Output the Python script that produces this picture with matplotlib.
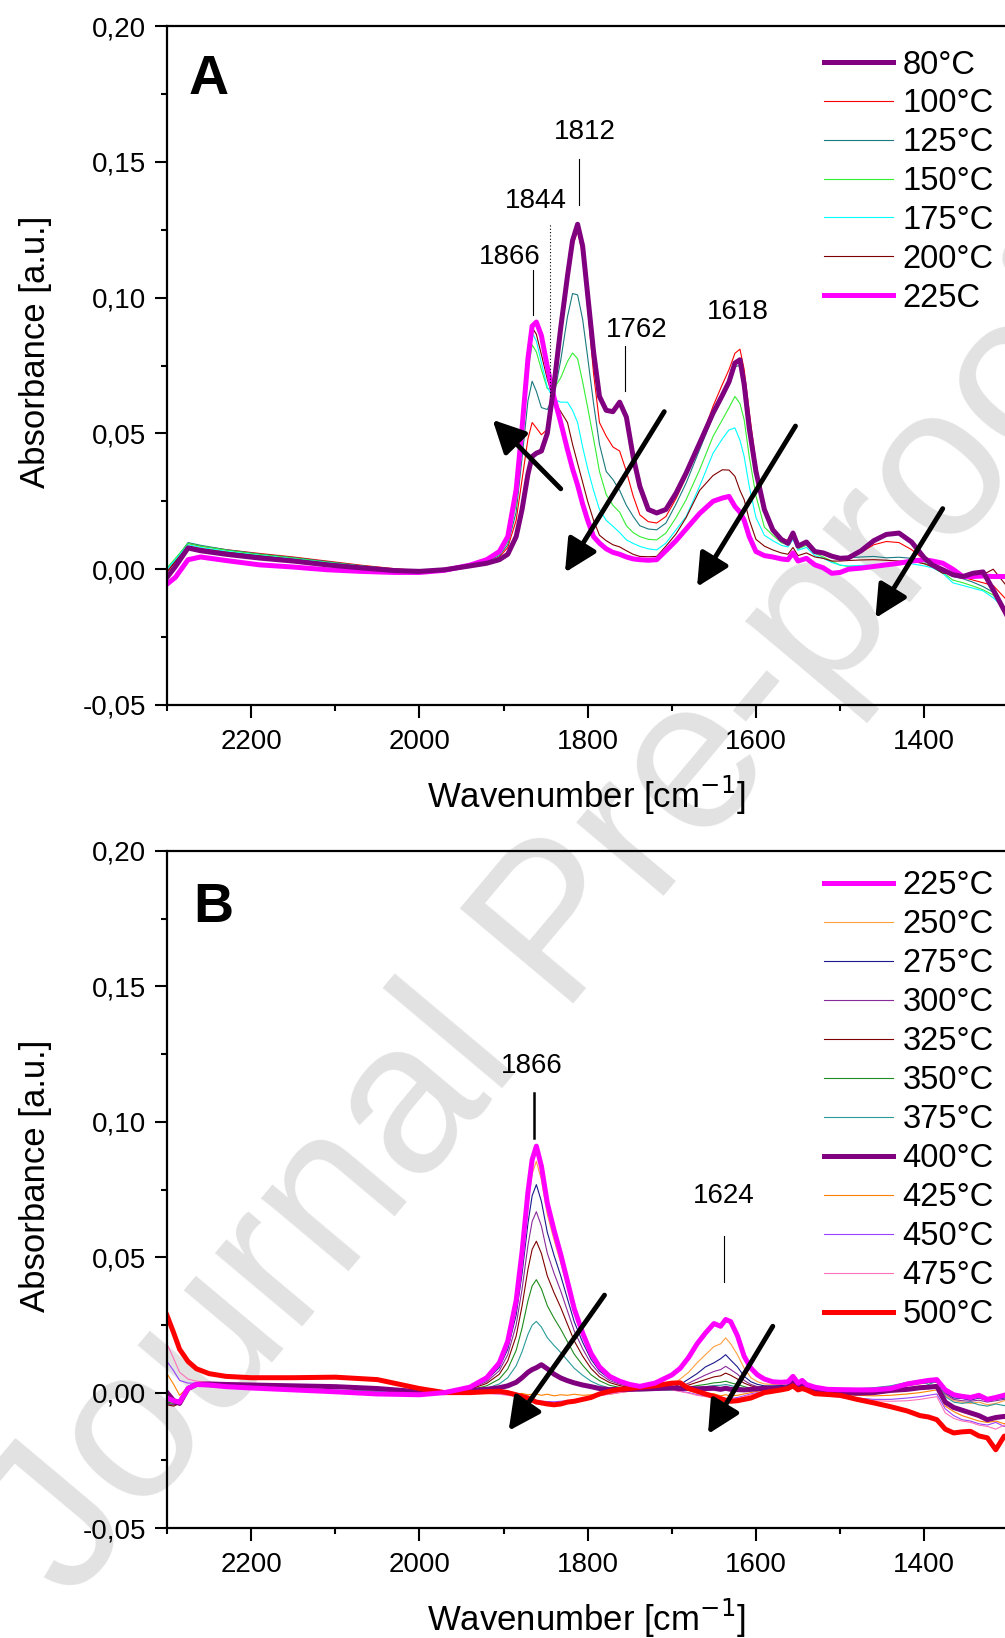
import matplotlib
matplotlib.use("Agg")
import matplotlib.pyplot as plt
from matplotlib.ticker import MultipleLocator, FuncFormatter

plt.rcParams['font.family'] = ['Liberation Sans', 'DejaVu Sans']

# ---------------- panel A data ----------------
wn_a = [2300, 2290, 2275, 2260, 2230, 2190, 2150, 2110, 2070, 2030,
        2000, 1970, 1940, 1920, 1905, 1895, 1885, 1878, 1871, 1866,
        1861, 1855, 1848, 1840, 1832, 1824, 1818, 1812, 1806, 1800,
        1793, 1786, 1778, 1770, 1762, 1754, 1746, 1738, 1728, 1718,
        1707, 1695, 1683, 1667, 1651, 1640, 1632, 1625, 1619, 1614,
        1608, 1600, 1590, 1580, 1570, 1562, 1556, 1550, 1540, 1530,
        1520, 1510, 1500, 1490, 1475, 1460, 1445, 1430, 1415, 1400,
        1390, 1378, 1366, 1354, 1342, 1330, 1318, 1300]

a_80 = [-0.003, 0.001, 0.0078, 0.0068, 0.0055, 0.0041, 0.0030, 0.0016, 0.0005, -0.0005,
        -0.0008, -0.0002, 0.0012, 0.0022, 0.0035, 0.0055, 0.012, 0.022, 0.035, 0.0415,
        0.0427, 0.0435, 0.050, 0.068, 0.089, 0.108, 0.121, 0.127, 0.119, 0.101,
        0.080, 0.0636, 0.0585, 0.058, 0.0615, 0.056, 0.0415, 0.0305, 0.022, 0.0207,
        0.022, 0.028, 0.0354, 0.0464, 0.0575, 0.064, 0.069, 0.0759, 0.0771, 0.068,
        0.052, 0.036, 0.022, 0.0145, 0.011, 0.0095, 0.0133, 0.0085, 0.010, 0.0065,
        0.006, 0.0048, 0.004, 0.0042, 0.0068, 0.0105, 0.0128, 0.0133, 0.0100, 0.0042,
        0.0015, -0.0002, -0.002, -0.0027, -0.0015, -0.001, -0.0076, -0.018]
a_100 = [-0.001, 0.003, 0.0095, 0.0085, 0.0072, 0.0058, 0.0045, 0.003, 0.0015, 0.0002,
         -0.0005, -0.0002, 0.0012, 0.0025, 0.0045, 0.008, 0.018, 0.033, 0.048, 0.054,
         0.052, 0.0495, 0.0515, 0.066, 0.087, 0.106, 0.119, 0.1245, 0.116, 0.096,
         0.072, 0.054, 0.049, 0.045, 0.0435, 0.036, 0.027, 0.020, 0.0175, 0.017,
         0.0194, 0.026, 0.034, 0.0464, 0.060, 0.068, 0.0735, 0.0795, 0.081, 0.0735,
         0.058, 0.039, 0.022, 0.0145, 0.0115, 0.0105, 0.014, 0.009, 0.0105, 0.0062,
         0.0058, 0.0045, 0.0036, 0.004, 0.0062, 0.0090, 0.0102, 0.0098, 0.0072, 0.0035,
         0.0008, -0.001, -0.0015, -0.003, -0.004, -0.005, -0.006, -0.012]
a_125 = [0.0, 0.0035, 0.0098, 0.0088, 0.0072, 0.0056, 0.0043, 0.0028, 0.0013, 0.0,
         -0.0006, -0.0002, 0.0014, 0.0028, 0.005, 0.009, 0.021, 0.041, 0.062, 0.0692,
         0.0655, 0.0595, 0.0588, 0.064, 0.077, 0.093, 0.1015, 0.101, 0.092, 0.078,
         0.061, 0.046, 0.036, 0.033, 0.029, 0.0235, 0.0195, 0.016, 0.0148, 0.0145,
         0.017, 0.024, 0.0317, 0.044, 0.0562, 0.063, 0.0685, 0.0746, 0.075, 0.0695,
         0.056, 0.037, 0.021, 0.0145, 0.0108, 0.0098, 0.013, 0.0082, 0.0095, 0.006,
         0.0055, 0.0045, 0.004, 0.0042, 0.0045, 0.0047, 0.0042, 0.0044, 0.0040, 0.0028,
         0.0018, -0.0005, -0.0027, -0.0035, -0.0048, -0.0064, -0.0085, -0.019]
a_150 = [0.0005, 0.004, 0.0095, 0.0085, 0.007, 0.0054, 0.0041, 0.0026, 0.0012, 0.0,
         -0.0006, -0.0002, 0.0014, 0.003, 0.0055, 0.010, 0.024, 0.048, 0.073, 0.0826,
         0.080, 0.0735, 0.0665, 0.0665, 0.0705, 0.0765, 0.0796, 0.0775, 0.069, 0.0595,
         0.048, 0.036, 0.0275, 0.0235, 0.021, 0.016, 0.0135, 0.012, 0.011, 0.0108,
         0.0133, 0.019, 0.0256, 0.0366, 0.0489, 0.055, 0.0595, 0.0636, 0.061, 0.055,
         0.0415, 0.027, 0.0155, 0.0125, 0.0098, 0.009, 0.012, 0.0075, 0.0088, 0.0058,
         0.0045, 0.003, 0.0015, 0.001, 0.0012, 0.0012, 0.0015, 0.0022, 0.0029, 0.0022,
         0.0012, -0.0012, -0.004, -0.005, -0.0062, -0.0076, -0.0095, -0.0165]
a_175 = [0.0, 0.0035, 0.009, 0.008, 0.0066, 0.0051, 0.0038, 0.0024, 0.0011, -0.0001,
         -0.0007, -0.0002, 0.0014, 0.003, 0.0058, 0.0105, 0.026, 0.052, 0.078, 0.087,
         0.084, 0.076, 0.067, 0.0625, 0.0615, 0.0615, 0.0585, 0.054, 0.045, 0.037,
         0.029, 0.022, 0.018, 0.0158, 0.0135, 0.0108, 0.0095, 0.0084, 0.0075, 0.0071,
         0.0096, 0.0145, 0.0194, 0.0305, 0.0427, 0.048, 0.0513, 0.052, 0.0475, 0.0415,
         0.0305, 0.019, 0.0125, 0.0105, 0.0088, 0.0082, 0.011, 0.007, 0.008, 0.005,
         0.004, 0.0025, 0.0015, 0.0012, 0.0014, 0.0015, 0.0017, 0.0020, 0.002, 0.0012,
         0.0005, -0.0015, -0.005, -0.006, -0.007, -0.008, -0.0105, -0.016]
a_200 = [-0.001, 0.0028, 0.0085, 0.0076, 0.0063, 0.0049, 0.0036, 0.0022, 0.001, -0.0002,
         -0.0008, -0.0003, 0.0014, 0.0032, 0.006, 0.011, 0.028, 0.055, 0.081, 0.089,
         0.0865, 0.079, 0.070, 0.062, 0.058, 0.054, 0.046, 0.039, 0.032, 0.025,
         0.018, 0.0125, 0.0105, 0.0090, 0.0082, 0.0068, 0.0055, 0.0047, 0.0046, 0.0047,
         0.0085, 0.013, 0.019, 0.029, 0.0345, 0.0366, 0.0365, 0.0342, 0.029, 0.0256,
         0.0182, 0.011, 0.0085, 0.0071, 0.006, 0.0055, 0.008, 0.005, 0.006, 0.0045,
         0.004, 0.003, 0.003, 0.0032, 0.0034, 0.0035, 0.0033, 0.003, 0.003, 0.002,
         0.0008, -0.0015, -0.0015, -0.0020, -0.0022, -0.002, 0.0, -0.007]
a_225 = [-0.0055, -0.003, 0.0035, 0.0045, 0.0032, 0.0016, 0.0008, -0.0002, -0.0008, -0.0012,
         -0.0012, -0.0004, 0.0015, 0.0035, 0.0065, 0.012, 0.0293, 0.052, 0.0775, 0.0895,
         0.091, 0.086, 0.0745, 0.0632, 0.054, 0.044, 0.037, 0.031, 0.024, 0.018,
         0.012, 0.0096, 0.0075, 0.0062, 0.0055, 0.0045, 0.0038, 0.0035, 0.0033, 0.0035,
         0.0068, 0.0105, 0.0148, 0.0205, 0.025, 0.0262, 0.0268, 0.0231, 0.021, 0.018,
         0.012, 0.0065, 0.005, 0.0045, 0.0038, 0.0035, 0.006, 0.003, 0.004, 0.0016,
         0.0005, -0.0015, -0.0012, 0.0, 0.0004, 0.0010, 0.0016, 0.0022, 0.0030, 0.0035,
         0.0030, 0.0022, 0.0, -0.0027, -0.0027, -0.0025, -0.0027, -0.0027]

series_a = [
    ("80°C", a_80, "#800080", 3.6),
    ("100°C", a_100, "#ff0000", 0.8),
    ("125°C", a_125, "#1a7a80", 0.8),
    ("150°C", a_150, "#33ee33", 0.8),
    ("175°C", a_175, "#00ffff", 0.8),
    ("200°C", a_200, "#800000", 0.8),
    ("225C", a_225, "#ff00ff", 3.6),
]

# ---------------- panel B data ----------------
wn_b = [2300, 2292, 2285, 2275, 2265, 2250, 2230, 2200, 2150, 2100,
        2050, 2000, 1970, 1940, 1920, 1905, 1895, 1885, 1878, 1871,
        1866, 1861, 1855, 1848, 1840, 1832, 1824, 1816, 1806, 1796,
        1786, 1774, 1762, 1750, 1738, 1720, 1700, 1690, 1680, 1670,
        1660, 1650, 1642, 1636, 1630, 1622, 1614, 1606, 1598, 1590,
        1580, 1570, 1562, 1556, 1550, 1545, 1540, 1530, 1515, 1500,
        1480, 1460, 1440, 1420, 1405, 1395, 1385, 1375, 1365, 1355,
        1345, 1335, 1325, 1315, 1305, 1300]

b_225 = [-0.002, -0.003, -0.0035, 0.0015, 0.003, 0.0028, 0.0022, 0.0017, 0.001, 0.0003, -0.0005, -0.0008,
         0.0, 0.002, 0.0055, 0.011, 0.019, 0.034, 0.052, 0.074, 0.086, 0.091, 0.0836, 0.070, 0.060,
         0.051, 0.041, 0.031, 0.022, 0.0145, 0.0095, 0.006, 0.0042, 0.003, 0.0023,
         0.0035, 0.0065, 0.009, 0.013, 0.018, 0.022, 0.0255, 0.0245, 0.027, 0.0262, 0.021, 0.0134, 0.009, 0.0065, 0.005,
         0.004, 0.0038, 0.004, 0.006, 0.0035, 0.0045, 0.003, 0.002, 0.0012, 0.0011, 0.001, 0.001, 0.0015,
         0.0032, 0.004, 0.0045, 0.0048, 0.001, -0.0008, -0.0014, -0.0018, -0.001, -0.0025, -0.0018, -0.001, -0.0005]
b_250 = [-0.003, -0.004, -0.004, 0.001, 0.0028, 0.0026, 0.002, 0.0016, 0.001, 0.0005, 0.0, -0.0003,
         0.0, 0.0019, 0.0052, 0.0103, 0.0179, 0.032, 0.0489, 0.0696, 0.0808, 0.0854, 0.0786, 0.0658, 0.0564,
         0.0479, 0.0385, 0.0291, 0.0207, 0.0136, 0.0089, 0.0056, 0.0039, 0.0028, 0.0022,
         0.002, 0.003, 0.005, 0.0075, 0.011, 0.014, 0.017, 0.018, 0.0202, 0.018, 0.014, 0.009, 0.0055, 0.004, 0.0032,
         0.003, 0.003, 0.0032, 0.0055, 0.003, 0.004, 0.0028, 0.0018, 0.0012, 0.001, 0.0008, 0.0008, 0.0012,
         0.0025, 0.0032, 0.0036, 0.0038, -0.001, -0.003, -0.0035, -0.004, -0.0035, -0.0045, -0.004, -0.003, -0.003]
b_275 = [-0.004, -0.0045, -0.004, 0.0008, 0.0026, 0.0025, 0.002, 0.0016, 0.0011, 0.0006, 0.0002, 0.0,
         0.0, 0.0017, 0.0046, 0.0093, 0.016, 0.0287, 0.0439, 0.0625, 0.0727, 0.0768, 0.0706, 0.0592, 0.0507,
         0.0431, 0.0346, 0.0262, 0.0186, 0.0123, 0.008, 0.0051, 0.0035, 0.0025, 0.002,
         0.0015, 0.002, 0.003, 0.005, 0.007, 0.0095, 0.011, 0.0125, 0.014, 0.012, 0.0095, 0.006, 0.004, 0.003, 0.0025,
         0.0025, 0.0026, 0.0028, 0.005, 0.0028, 0.0038, 0.0026, 0.0017, 0.0012, 0.0011, 0.001, 0.001, 0.0014,
         0.0026, 0.0034, 0.0038, 0.004, 0.0, -0.002, -0.0022, -0.0028, -0.002, -0.003, -0.0025, -0.002, -0.002]
b_300 = [-0.004, -0.0045, -0.0035, 0.001, 0.0027, 0.0025, 0.0021, 0.0017, 0.0012, 0.0007, 0.0003, 0.0,
         0.0, 0.0015, 0.004, 0.0081, 0.014, 0.025, 0.0382, 0.0544, 0.0632, 0.0668, 0.0615, 0.0515, 0.0441,
         0.0375, 0.0301, 0.0228, 0.0162, 0.0107, 0.007, 0.0044, 0.0031, 0.0022, 0.0017,
         0.0012, 0.0015, 0.0022, 0.0035, 0.005, 0.0065, 0.0078, 0.0085, 0.0097, 0.0085, 0.0068, 0.0045, 0.003, 0.0022, 0.002,
         0.002, 0.0022, 0.0025, 0.0048, 0.0025, 0.0035, 0.0024, 0.0016, 0.0011, 0.001, 0.001, 0.001, 0.0014,
         0.0027, 0.0035, 0.0038, 0.004, -0.0005, -0.0025, -0.003, -0.0032, -0.0028, -0.0035, -0.003, -0.0025, -0.0022]
b_325 = [-0.0045, -0.005, -0.004, 0.0008, 0.0025, 0.0024, 0.002, 0.0016, 0.0012, 0.0008, 0.0004, 0.0,
         0.0, 0.0012, 0.0034, 0.0068, 0.0117, 0.0209, 0.032, 0.0455, 0.0529, 0.0559, 0.0514, 0.0431, 0.0369,
         0.0314, 0.0252, 0.0191, 0.0135, 0.0089, 0.0058, 0.0037, 0.0026, 0.0018, 0.0014,
         0.001, 0.0012, 0.0018, 0.0028, 0.0038, 0.0048, 0.0058, 0.0062, 0.0072, 0.0064, 0.005, 0.0035, 0.0025, 0.0018, 0.0016,
         0.0016, 0.0018, 0.0022, 0.0045, 0.0024, 0.0034, 0.0023, 0.0016, 0.0012, 0.0011, 0.0011, 0.0012, 0.0016,
         0.003, 0.0038, 0.004, 0.0042, 0.0008, -0.0012, -0.0018, -0.002, -0.0015, -0.0025, -0.002, -0.0015, -0.001]
b_350 = [-0.0035, -0.004, -0.003, 0.001, 0.0024, 0.0022, 0.0019, 0.0016, 0.0012, 0.0008, 0.0004, 0.0,
         0.0, 0.0009, 0.0025, 0.005, 0.0087, 0.0156, 0.0238, 0.0339, 0.0394, 0.0417, 0.0383, 0.0321, 0.0275,
         0.0234, 0.0188, 0.0142, 0.0101, 0.0066, 0.0044, 0.0027, 0.0019, 0.0014, 0.0011,
         0.001, 0.001, 0.0014, 0.002, 0.0026, 0.003, 0.0036, 0.0038, 0.0042, 0.0036, 0.003, 0.0022, 0.0016, 0.0012, 0.001,
         0.0012, 0.0015, 0.002, 0.0043, 0.0022, 0.0032, 0.0022, 0.0016, 0.0013, 0.0012, 0.0013, 0.0015, 0.0022,
         0.0035, 0.0042, 0.0038, 0.0045, 0.0005, -0.0015, -0.0015, -0.0022, -0.0012, -0.002, -0.0015, -0.0018, -0.0015]
b_375 = [-0.003, -0.0035, -0.0025, 0.0012, 0.0025, 0.0023, 0.002, 0.0017, 0.0013, 0.0009, 0.0005, 0.0,
         0.0, 0.0006, 0.0016, 0.0032, 0.0055, 0.0099, 0.0151, 0.0215, 0.0249, 0.0263, 0.0242, 0.0203, 0.0174,
         0.0148, 0.0119, 0.009, 0.0064, 0.0042, 0.0028, 0.0017, 0.0012, 0.0009, 0.0007,
         0.0008, 0.0008, 0.001, 0.0014, 0.0018, 0.0022, 0.0026, 0.0027, 0.003, 0.0026, 0.002, 0.0015, 0.0012, 0.001, 0.0008,
         0.001, 0.0013, 0.0018, 0.0042, 0.002, 0.003, 0.002, 0.0015, 0.0012, 0.0012, 0.0014, 0.0018, 0.0025,
         0.0038, 0.0045, 0.003, 0.0042, -0.0015, -0.0035, -0.004, -0.0035, -0.0045, -0.005, -0.0042, -0.0048, -0.0045]
b_400 = [0.0, -0.003, -0.004, 0.0015, 0.003, 0.0032, 0.003, 0.0028, 0.0025, 0.0022, 0.0015, 0.0003,
         0.0, 0.0008, 0.0012, 0.0018, 0.0025, 0.0038, 0.0055, 0.0075, 0.0085, 0.0092, 0.0103, 0.0088, 0.0068,
         0.0054, 0.0044, 0.0036, 0.0028, 0.0022, 0.0015, 0.0011, 0.0012, 0.0012, 0.0013,
         0.0015, 0.0018, 0.0015, 0.0016, 0.0014, 0.0015, 0.0016, 0.0012, 0.0016, 0.0012, 0.0011, 0.001, 0.0012, 0.0014, 0.0016,
         0.0015, 0.0015, 0.0018, 0.004, 0.0018, 0.0028, 0.0015, 0.0008, 0.0004, 0.0, -0.0002, 0.0, 0.0008,
         0.0012, 0.0018, 0.002, 0.0023, -0.0035, -0.0055, -0.0065, -0.0075, -0.0085, -0.01, -0.0092, -0.0088, -0.009]
b_425 = [0.007, 0.003, -0.001, 0.002, 0.003, 0.003, 0.0028, 0.0026, 0.0022, 0.0018, 0.0012, 0.0,
         0.0, 0.0, 0.0, -0.0002, -0.0004, -0.0005, -0.0003, -0.0008, -0.0006, -0.0005, -0.001, -0.0006, -0.0012,
         -0.0008, -0.001, -0.0006, -0.001, -0.0008, -0.0004, -0.0006, 0.0, 0.0005, 0.001,
         0.0012, 0.0015, 0.001, 0.0008, 0.0, -0.0005, -0.0004, -0.0012, -0.0008, -0.0012, -0.001, -0.0005, 0.0, 0.0005, 0.0008,
         0.0008, 0.001, 0.0012, 0.0035, 0.0012, 0.002, 0.0008, 0.0, -0.0005, -0.0008, -0.001, -0.0012, -0.001,
         -0.0005, 0.0, 0.0005, 0.001, -0.005, -0.007, -0.0085, -0.0095, -0.0105, -0.011, -0.0105, -0.0115, -0.011]
b_450 = [0.0115, 0.008, 0.0045, 0.0035, 0.0035, 0.0033, 0.003, 0.0028, 0.0024, 0.002, 0.0013, 0.0,
         0.0, 0.0, -0.0002, -0.0005, -0.0008, -0.0012, -0.0018, -0.0022, -0.0026, -0.003, -0.0032, -0.0033, -0.0034,
         -0.0032, -0.003, -0.0028, -0.0022, -0.0016, -0.001, -0.0004, 0.0002, 0.0006, 0.001,
         0.0012, 0.0012, 0.0005, 0.0, -0.0008, -0.0012, -0.0018, -0.0022, -0.0025, -0.0022, -0.0018, -0.0012, -0.0005, 0.0, 0.0005,
         0.0005, 0.0008, 0.001, 0.003, 0.001, 0.0018, 0.0005, -0.0003, -0.001, -0.0015, -0.002, -0.0025, -0.0025,
         -0.002, -0.0015, -0.001, -0.0005, -0.006, -0.0085, -0.01, -0.0105, -0.0115, -0.012, -0.011, -0.0125, -0.012]
b_475 = [0.018, 0.0125, 0.0075, 0.005, 0.0042, 0.0038, 0.0035, 0.0032, 0.0027, 0.0023, 0.0015, 0.0,
         0.0, 0.0, -0.0003, -0.0006, -0.001, -0.0014, -0.002, -0.0025, -0.003, -0.0034, -0.0036, -0.0037, -0.0038,
         -0.0036, -0.0033, -0.003, -0.0024, -0.0018, -0.0012, -0.0006, 0.0, 0.0005, 0.0009,
         0.001, 0.001, 0.0004, -0.0002, -0.001, -0.0015, -0.002, -0.0026, -0.003, -0.0026, -0.0022, -0.0015, -0.0008, -0.0002, 0.0003,
         0.0005, 0.0007, 0.0009, 0.003, 0.0009, 0.0016, 0.0004, -0.0005, -0.0012, -0.0018, -0.0025, -0.003, -0.0032,
         -0.003, -0.0025, -0.002, -0.0015, -0.0075, -0.0095, -0.0105, -0.011, -0.012, -0.0125, -0.0135, -0.012, -0.013]
b_500 = [0.0285, 0.022, 0.016, 0.0115, 0.0088, 0.007, 0.006, 0.0055, 0.0055, 0.0057, 0.0048, 0.0015,
         0.0, 0.0, 0.0003, 0.0005, 0.0, -0.0008, -0.0014, -0.002, -0.0028, -0.0035, -0.0038, -0.0042, -0.0045,
         -0.0042, -0.0035, -0.0032, -0.0025, -0.0018, -0.0005, 0.0005, 0.0012, 0.0015, 0.002,
         0.0025, 0.0035, 0.0036, 0.0015, 0.0005, -0.0005, -0.0014, -0.0022, -0.0028, -0.0032, -0.003, -0.0025, -0.002, -0.001, 0.0,
         0.0005, 0.001, 0.0015, 0.0025, 0.001, 0.0015, 0.001, -0.0004, -0.0007, -0.001, -0.0025, -0.0038, -0.0052,
         -0.0068, -0.0085, -0.009, -0.01, -0.0135, -0.0149, -0.0145, -0.0143, -0.016, -0.0167, -0.0211, -0.0161, -0.016]

series_b = [
    ("225°C", b_225, "#ff00ff", 3.6),
    ("250°C", b_250, "#ffa040", 0.8),
    ("275°C", b_275, "#1a1a8c", 0.8),
    ("300°C", b_300, "#8a2a9a", 0.8),
    ("325°C", b_325, "#800000", 0.8),
    ("350°C", b_350, "#1e8c1e", 0.8),
    ("375°C", b_375, "#2a9a9a", 0.8),
    ("400°C", b_400, "#800080", 3.6),
    ("425°C", b_425, "#ff8000", 0.8),
    ("450°C", b_450, "#9a40ff", 0.8),
    ("475°C", b_475, "#ff70b8", 0.8),
    ("500°C", b_500, "#ff0000", 3.6),
]

# draw order: thick reference spectra on top
draw_a = [1, 2, 3, 4, 5, 6, 0]
draw_b = [1, 2, 3, 4, 5, 6, 8, 9, 10, 7, 11, 0]

W, H = 1005, 1638
fig = plt.figure(figsize=(W / 100, H / 100), dpi=100)

fig.text(0.56, 0.432, "Journal Pre-proof", rotation=50, fontsize=155,
         color="#e2e2e2", ha="center", va="center", rotation_mode="anchor",
         zorder=-1)

ax_a = fig.add_axes([167 / W, 1 - 705 / H, (W - 167) / W, 679 / H])
ax_b = fig.add_axes([167 / W, 1 - 1528 / H, (W - 167) / W, 677 / H])

label_font = dict(fontsize=25, family=["Liberation Sans Narrow", "Liberation Sans"])


def style(ax):
    ax.set_facecolor("none")
    ax.set_xlim(2300, 1304)
    ax.set_ylim(-0.05, 0.20)
    ax.xaxis.set_major_locator(MultipleLocator(200))
    ax.xaxis.set_minor_locator(MultipleLocator(100))
    ax.yaxis.set_major_locator(MultipleLocator(0.05))
    ax.yaxis.set_minor_locator(MultipleLocator(0.025))
    ax.yaxis.set_major_formatter(FuncFormatter(lambda v, p: f"{v:.2f}".replace(".", ",")))
    ax.tick_params(which="major", direction="out", length=9, width=1.5, labelsize=20, pad=6)
    ax.tick_params(which="minor", direction="out", length=4.5, width=1.5)
    ax.tick_params(axis="x", which="major", pad=8)
    ax.tick_params(top=False, right=False, which="both")
    for s in ["left", "bottom", "top"]:
        ax.spines[s].set_linewidth(1.6)
    ax.spines["right"].set_visible(False)
    ax.set_ylabel("Absorbance [a.u.]", labelpad=22, **label_font)
    ax.yaxis.label.set_y(0.52)
    ax.set_xlabel("Wavenumber [cm$^{-1}$]", labelpad=14, **label_font)


def arrow(ax, tail, head):
    ax.annotate("", xy=head, xytext=tail,
                arrowprops=dict(arrowstyle="-|>,head_length=0.9,head_width=0.45", lw=3.5,
                                color="k", shrinkA=0, shrinkB=0, mutation_scale=22))


# ---- panel A ----
style(ax_a)
handles = {}
for i in draw_a:
    lab, vals, col, lw = series_a[i]
    handles[i], = ax_a.plot(wn_a, vals, color=col, lw=lw, label=lab, solid_joinstyle="round")
ax_a.legend([handles[i] for i in range(len(series_a))], [s[0] for s in series_a],
            loc="upper right", bbox_to_anchor=(1.014, 0.999), frameon=False, fontsize=23.5,
            handlelength=2.1, handletextpad=0.3, labelspacing=0.24, borderaxespad=0.3)
ax_a.text(2250, 0.180, "A", fontsize=40, fontweight="bold", ha="center", va="center")

ax_a.text(1893, 0.115, "1866", fontsize=20, ha="center", va="center")
ax_a.plot([1865, 1865], [0.0937, 0.1103], color="k", lw=0.8)
ax_a.text(1862, 0.1355, "1844", fontsize=20, ha="center", va="center")
ax_a.plot([1845, 1845], [0.0636, 0.1274], color="k", lw=0.8, ls=(0, (1, 2)))
ax_a.text(1804, 0.161, "1812", fontsize=20, ha="center", va="center")
ax_a.plot([1810, 1810], [0.1342, 0.1511], color="k", lw=0.8)
ax_a.text(1742, 0.088, "1762", fontsize=20, ha="center", va="center")
ax_a.plot([1756, 1756], [0.0655, 0.082], color="k", lw=0.8)
ax_a.text(1621, 0.0946, "1618", fontsize=20, ha="center", va="center")

arrow(ax_a, (1832, 0.0296), (1913, 0.055))
arrow(ax_a, (1709, 0.058), (1827, -0.0012))
arrow(ax_a, (1553, 0.0527), (1670, -0.0065))
arrow(ax_a, (1378, 0.0223), (1458, -0.018))

# ---- panel B ----
style(ax_b)
handles = {}
for i in draw_b:
    lab, vals, col, lw = series_b[i]
    handles[i], = ax_b.plot(wn_b, vals, color=col, lw=lw, label=lab, solid_joinstyle="round")
ax_b.legend([handles[i] for i in range(len(series_b))], [s[0] for s in series_b],
            loc="upper right", bbox_to_anchor=(1.014, 1.005), frameon=False, fontsize=23.5,
            handlelength=2.1, handletextpad=0.3, labelspacing=0.245, borderaxespad=0.3)
ax_b.text(2245, 0.1788, "B", fontsize=40, fontweight="bold", ha="center", va="center")

ax_b.text(1867, 0.1205, "1866", fontsize=20, ha="center", va="center")
ax_b.plot([1864, 1864], [0.0939, 0.1105], color="k", lw=1.8)
ax_b.text(1638, 0.0727, "1624", fontsize=20, ha="center", va="center")
ax_b.plot([1638, 1638], [0.041, 0.058], color="k", lw=0.8)

arrow(ax_b, (1780, 0.036), (1894, -0.0141))
arrow(ax_b, (1580, 0.0245), (1657, -0.0153))

fig.savefig("out.png", dpi=100)
